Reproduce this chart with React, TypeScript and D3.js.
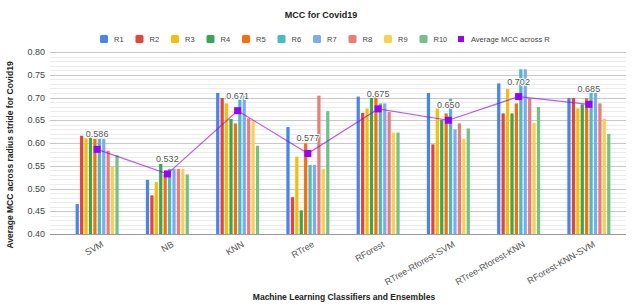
import { useEffect, useRef } from "react";
import * as d3 from "d3";

const CLASSIFIERS = ["SVM", "NB", "KNN", "RTree", "RForest", "RTree-Rforest-SVM", "RTree-Rforest-KNN", "RForest-KNN-SVM"];
const SERIES = ["R1", "R2", "R3", "R4", "R5", "R6", "R7", "R8", "R9", "R10"];
const SERIES_COLORS = ["#4285f4", "#ea4335", "#fbbc04", "#34a853", "#ff6d01", "#46bdc6", "#7baaf7", "#f07b72", "#fcd04f", "#71c287"];

// MCC per classifier, one row per classifier, R1..R10
const MCC = [
  [0.466, 0.616, 0.610, 0.612, 0.609, 0.609, 0.609, 0.583, 0.549, 0.573],
  [0.519, 0.485, 0.514, 0.554, 0.532, 0.543, 0.543, 0.543, 0.543, 0.531],
  [0.710, 0.699, 0.687, 0.653, 0.643, 0.696, 0.707, 0.654, 0.648, 0.594],
  [0.635, 0.481, 0.570, 0.452, 0.599, 0.552, 0.552, 0.704, 0.543, 0.670],
  [0.702, 0.666, 0.676, 0.699, 0.702, 0.687, 0.687, 0.668, 0.623, 0.623],
  [0.710, 0.597, 0.676, 0.651, 0.665, 0.697, 0.630, 0.643, 0.609, 0.632],
  [0.731, 0.665, 0.719, 0.665, 0.687, 0.762, 0.762, 0.698, 0.644, 0.679],
  [0.699, 0.699, 0.676, 0.685, 0.699, 0.710, 0.710, 0.687, 0.653, 0.620],
];
const AVERAGE = [0.586, 0.532, 0.671, 0.577, 0.675, 0.650, 0.702, 0.685];
const Y_TICKS = [0.4, 0.45, 0.5, 0.55, 0.6, 0.65, 0.7, 0.75, 0.8];

const FONT = "'Liberation Sans', Arial, sans-serif";
const AVG_COLOR = "#9900ff";

export default function App() {
  const svgRef = useRef<SVGSVGElement>(null);

  useEffect(() => {
    if (!svgRef.current) return;
    const width = 632;
    const height = 308;
    const plot = { left: 50, right: 626, top: 52, bottom: 234 };

    const svg = d3.select(svgRef.current);
    svg.selectAll("*").remove();
    svg.attr("width", width).attr("height", height);

    svg.append("rect").attr("width", width).attr("height", height).attr("fill", "#fff");

    const x = d3.scaleBand<string>().domain(CLASSIFIERS).range([62, 624]);
    const y = d3.scaleLinear().domain([0.4, 0.8]).range([plot.bottom, plot.top]);

    // Minor grid
    svg.append("g")
      .selectAll("line")
      .data(d3.range(40, 81).map(v => v / 100))
      .join("line")
      .attr("x1", plot.left).attr("x2", plot.right)
      .attr("y1", d => Math.round(y(d)) + 0.5).attr("y2", d => Math.round(y(d)) + 0.5)
      .attr("stroke", "#ececec");

    // Major grid
    svg.append("g")
      .selectAll("line")
      .data(Y_TICKS)
      .join("line")
      .attr("x1", plot.left).attr("x2", plot.right)
      .attr("y1", d => Math.round(y(d)) + 0.5).attr("y2", d => Math.round(y(d)) + 0.5)
      .attr("stroke", d => (d === 0.4 ? "#999" : "#c8c8c8"));

    svg.append("g")
      .selectAll("text")
      .data(Y_TICKS)
      .join("text")
      .attr("x", 45)
      .attr("y", d => y(d) + 3)
      .attr("text-anchor", "end")
      .attr("font-family", FONT)
      .attr("font-size", 9)
      .attr("fill", "#444")
      .text(d => d.toFixed(2));

    // Bars
    const inner = d3.scaleBand<string>().domain(SERIES).paddingInner(0.27);
    const groups = svg.append("g")
      .selectAll("g")
      .data(CLASSIFIERS)
      .join("g")
      .attr("transform", d => `translate(${x(d)! + x.bandwidth() / 2 - 21.5},0)`);
    inner.range([0, 43]);

    groups.selectAll("rect")
      .data((_, i) => MCC[i].map((v, j) => ({ v, s: SERIES[j], c: SERIES_COLORS[j] })))
      .join("rect")
      .attr("x", d => inner(d.s)!)
      .attr("width", inner.bandwidth())
      .attr("y", d => y(d.v))
      .attr("height", d => y(0.4) - y(d.v))
      .attr("fill", d => d.c);

    // Average line
    const pts = CLASSIFIERS.map((c, i) => [x(c)! + x.bandwidth() / 2, y(AVERAGE[i])] as [number, number]);
    svg.append("path")
      .datum(pts)
      .attr("fill", "none")
      .attr("stroke", AVG_COLOR)
      .attr("stroke-opacity", 0.65)
      .attr("stroke-width", 1.2)
      .attr("d", d3.line());

    svg.append("g")
      .selectAll("rect")
      .data(pts)
      .join("rect")
      .attr("x", d => d[0] - 3.5)
      .attr("y", d => d[1] - 3.5)
      .attr("width", 7)
      .attr("height", 7)
      .attr("fill", AVG_COLOR);

    svg.append("g")
      .selectAll("text")
      .data(pts)
      .join("text")
      .attr("x", d => d[0])
      .attr("y", d => d[1] - 12)
      .attr("text-anchor", "middle")
      .attr("font-family", FONT)
      .attr("font-size", 9)
      .attr("fill", "#555")
      .attr("stroke", "#fff")
      .attr("stroke-width", 2)
      .attr("paint-order", "stroke")
      .text((_, i) => AVERAGE[i].toFixed(3));

    // X labels
    svg.append("g")
      .selectAll("text")
      .data(CLASSIFIERS)
      .join("text")
      .attr("transform", d => `translate(${x(d)! + x.bandwidth() / 2 + 7},${246}) rotate(-30)`)
      .attr("text-anchor", "end")
      .attr("font-family", FONT)
      .attr("font-size", 9)
      .attr("fill", "#555")
      .text(d => d);

    // Titles
    svg.append("text")
      .attr("x", 321).attr("y", 18)
      .attr("text-anchor", "middle")
      .attr("font-family", FONT).attr("font-size", 9).attr("font-weight", "bold")
      .attr("fill", "#222")
      .text("MCC for Covid19");

    svg.append("text")
      .attr("x", 344).attr("y", 300)
      .attr("text-anchor", "middle")
      .attr("font-family", FONT).attr("font-size", 8.5).attr("font-weight", "bold")
      .attr("fill", "#222")
      .text("Machine Learning Classifiers and Ensembles");

    svg.append("text")
      .attr("transform", `translate(13,${155}) rotate(-90)`)
      .attr("text-anchor", "middle")
      .attr("font-family", FONT).attr("font-size", 8.5).attr("font-weight", "bold")
      .attr("fill", "#222")
      .text("Average MCC across radius stride for Covid19");

    // Legend
    const legend = svg.append("g").attr("transform", "translate(100,39)");
    SERIES.forEach((s, i) => {
      const g = legend.append("g").attr("transform", `translate(${i * 35.5},0)`);
      g.append("rect").attr("x", 0).attr("y", -4).attr("width", 8).attr("height", 8).attr("rx", 1.5).attr("fill", SERIES_COLORS[i]);
      g.append("text").attr("x", 14).attr("y", 3)
        .attr("font-family", FONT).attr("font-size", 7.5).attr("fill", "#444").text(s);
    });
    const avg = legend.append("g").attr("transform", `translate(${10 * 35.5 + 2},0)`);
    avg.append("rect").attr("x", 1).attr("y", -3).attr("width", 6).attr("height", 6).attr("fill", AVG_COLOR);
    avg.append("text").attr("x", 14).attr("y", 3)
      .attr("font-family", FONT).attr("font-size", 7.5).attr("fill", "#444").text("Average MCC across R");
  }, []);

  return (
    <div style={{ position: "absolute", left: 0, top: 0 }}>
      <svg ref={svgRef} style={{ display: "block" }} />
    </div>
  );
}
